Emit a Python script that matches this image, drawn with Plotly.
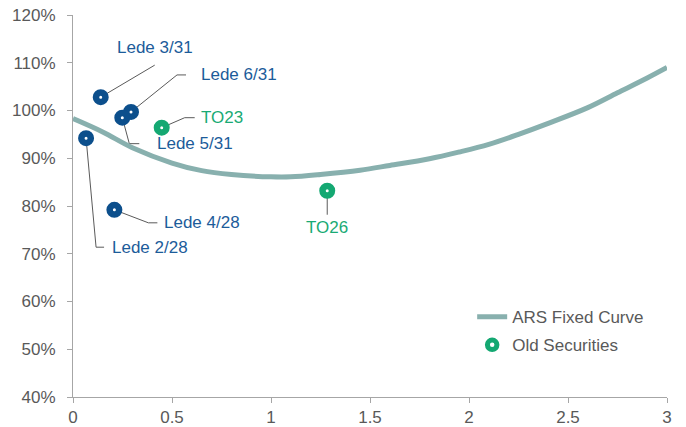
import plotly.graph_objects as go

# ---- data ----
curve_x = [0, 0.15, 0.3, 0.5, 0.65, 0.8, 1.0, 1.1, 1.25, 1.45, 1.6, 1.8, 1.95, 2.1, 2.25, 2.4, 2.6, 2.75, 2.9, 3.0]
curve_y = [98.3, 95.5, 92.2, 89.0, 87.4, 86.6, 86.1, 86.1, 86.6, 87.5, 88.5, 89.9, 91.3, 92.9, 95.0, 97.3, 100.6, 103.7, 106.8, 109.0]

new_names = ["Lede 3/31", "Lede 6/31", "Lede 5/31", "Lede 2/28", "Lede 4/28"]
new_x = [0.14, 0.293, 0.249, 0.066, 0.209]
new_y = [102.8, 99.7, 98.5, 94.2, 79.2]

old_names = ["TO23", "TO26"]
old_x = [0.448, 1.284]
old_y = [96.4, 83.2]

x_ticks = [0, 0.5, 1, 1.5, 2, 2.5, 3]
x_ticklabels = ["0", "0.5", "1", "1.5", "2", "2.5", "3"]
y_ticks = [40, 50, 60, 70, 80, 90, 100, 110, 120]
y_ticklabels = ["40%", "50%", "60%", "70%", "80%", "90%", "100%", "110%", "120%"]

# ---- styles ----
BLUE = "#0C4F8C"
GREEN = "#14A872"
BLUE_TXT = "#1C5C9A"
GREEN_TXT = "#1AAA74"
CURVE = "#88B0AE"
AXIS = "#A6A6A6"
LEAD = "#5A5A5A"
FONT = "Liberation Sans, Arial, sans-serif"

# label layout: leader path points (px offsets: right, down) and label offset/anchor
label_style = {
    "Lede 3/31": dict(path=[(0, 0), (54, -32)], lab=(54, -50), anchor="center"),
    "Lede 6/31": dict(path=[(0, 0), (46, -37), (55, -37)], lab=(68, -37), anchor="left"),
    "Lede 5/31": dict(path=[(0, 0), (7, 26), (17, 26)], lab=(33, 26), anchor="left"),
    "Lede 2/28": dict(path=[(0, 0), (10, 109), (18, 109)], lab=(24, 109), anchor="left"),
    "Lede 4/28": dict(path=[(0, 0), (34, 13), (43, 13)], lab=(48, 13), anchor="left"),
    "TO23": dict(path=[(0, 0), (23, -10), (33, -10)], lab=(37, -10), anchor="left"),
    "TO26": dict(path=[(0, 0), (0, 24)], lab=(0, 37), anchor="center"),
}

fig = go.Figure()

fig.add_trace(go.Scatter(
    x=curve_x, y=curve_y, mode="lines", name="ARS Fixed Curve",
    line=dict(color=CURVE, width=5, shape="spline", smoothing=1.0),
    legendgroup="a",
))

fig.add_trace(go.Scatter(
    x=new_x, y=new_y, mode="markers", name="New Securities", showlegend=False,
    marker=dict(size=9.5, color="white", line=dict(color=BLUE, width=6.5)),
))

fig.add_trace(go.Scatter(
    x=old_x, y=old_y, mode="markers", name="Old Securities",
    marker=dict(size=9.5, color="white", line=dict(color=GREEN, width=6.5)),
    legendgroup="b",
))

shapes = []
annotations = []
for names, xs, ys, col in [(new_names, new_x, new_y, BLUE_TXT), (old_names, old_x, old_y, GREEN_TXT)]:
    for n, xv, yv in zip(names, xs, ys):
        st = label_style[n]
        path = "M " + " L ".join(f"{dx},{-dy}" for dx, dy in st["path"])
        shapes.append(dict(
            type="path", path=path, xref="x", yref="y",
            xsizemode="pixel", ysizemode="pixel", xanchor=xv, yanchor=yv,
            line=dict(color=LEAD, width=1), layer="below",
        ))
        annotations.append(dict(
            x=xv, y=yv, xref="x", yref="y", text=n, showarrow=False,
            xanchor=st["anchor"], yanchor="middle",
            xshift=st["lab"][0], yshift=-st["lab"][1],
            font=dict(family=FONT, size=17, color=col),
        ))

fig.update_layout(
    width=686, height=427,
    margin=dict(l=73, r=19, t=15, b=30),
    paper_bgcolor="white", plot_bgcolor="white",
    font=dict(family=FONT, size=17, color="#595959"),
    shapes=shapes, annotations=annotations,
    showlegend=True,
    legend=dict(
        x=0.672, y=0.256, xanchor="left", yanchor="top",
        bgcolor="rgba(0,0,0,0)", font=dict(size=17, color="#595959"),
        traceorder="grouped", tracegroupgap=3,
    ),
    xaxis=dict(
        range=[0, 3], tickvals=x_ticks, ticktext=x_ticklabels, automargin=False,
        showgrid=False, zeroline=False, showline=True, linecolor=AXIS, linewidth=1,
        ticks="outside", ticklen=5, tickcolor=AXIS,
        tickfont=dict(size=17, color="#595959"),
    ),
    yaxis=dict(
        range=[40, 120], tickvals=y_ticks, ticktext=y_ticklabels, automargin=False,
        showgrid=False, zeroline=False, showline=True, linecolor=AXIS, linewidth=1,
        ticks="outside", ticklen=5, tickcolor=AXIS, ticklabelstandoff=8,
        tickfont=dict(size=17, color="#595959"),
    ),
)

fig.write_html("out.html")
